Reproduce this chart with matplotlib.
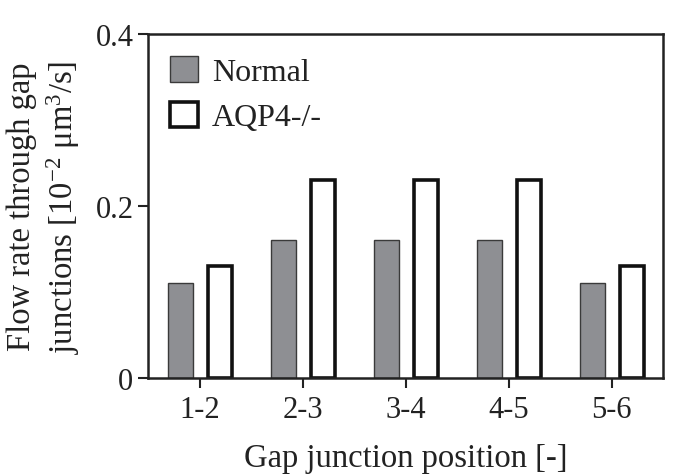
import matplotlib
matplotlib.use("Agg")
import matplotlib.pyplot as plt
import numpy as np

categories = ["1-2", "2-3", "3-4", "4-5", "5-6"]
normal = [0.11, 0.16, 0.16, 0.16, 0.11]
aqp4 = [0.13, 0.23, 0.23, 0.23, 0.13]

plt.rcParams['font.family'] = ['Liberation Serif', 'DejaVu Serif']
plt.rcParams['mathtext.fontset'] = 'custom'
plt.rcParams['mathtext.rm'] = 'Liberation Serif'
plt.rcParams['mathtext.it'] = 'Liberation Serif:italic'

fig = plt.figure(figsize=(6.75, 4.77), dpi=100)
ax = fig.add_axes([148/675, 1-379/477, (663-148)/675, (379-35)/477])

x = np.arange(len(categories))
ax.bar(x - 0.185, normal, width=0.24, color='#8e8f93', edgecolor='#3a3a3a',
       linewidth=1.0, label='Normal')
ax.bar(x + 0.2, aqp4, width=0.23, color='white', edgecolor='#111111',
       linewidth=2.6, label='AQP4-/-')

ax.set_xlim(-0.5, 4.5)
ax.set_ylim(0, 0.4)
ax.set_xticks(x)
ax.set_xticklabels(categories)
ax.set_yticks([0, 0.2, 0.4])
ax.set_yticklabels(['0', '0.2', '0.4'])
ax.tick_params(axis='both', labelsize=22, width=1.5, length=7.5, direction='out',
               colors='#222222', labelcolor='#222222')
ax.tick_params(axis='x', pad=5)
ax.tick_params(axis='y', pad=3)
for s in ax.spines.values():
    s.set_linewidth(1.8)
    s.set_color('#222222')

ax.set_xlabel('Gap junction position [-]', fontsize=23.5, color='#222222', labelpad=13)
ax.set_ylabel('Flow rate through gap\njunctions [10$^{-2}$ μm$^3$/s]', fontsize=23.5,
              color='#222222', linespacing=1.25, labelpad=10)

leg = ax.legend(loc='upper left', frameon=False, fontsize=23, handlelength=0.85,
                handleheight=0.85, handletextpad=0.45, labelspacing=0.45,
                borderaxespad=0.3, bbox_to_anchor=(0.0, 1.0))
for t in leg.get_texts():
    t.set_color('#222222')

fig.savefig('out.png', dpi=100)
